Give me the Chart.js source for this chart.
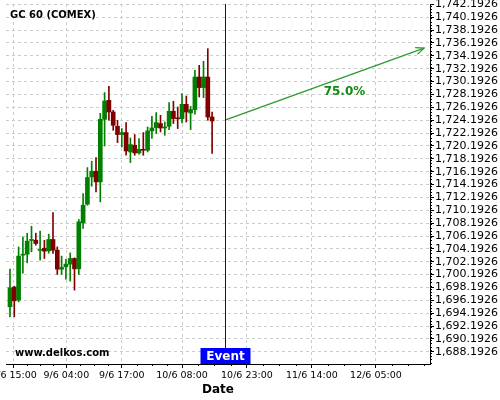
<!DOCTYPE html>
<html>
<head>
<meta charset="utf-8">
<script src="https://cdn.jsdelivr.net/npm/chart.js@4.4.1/dist/chart.umd.min.js"></script>
<style>
  html, body { margin: 0; padding: 0; background: #fff; }
  #wrap { width: 500px; height: 400px; }
</style>
</head>
<body>
<div id="wrap"><canvas id="gcChart" width="500" height="400"></canvas></div>
<script>
// hourly candles, x = bar index
const candleOpen = [1695.19, 1698.25, 1696.23, 1703.21, 1703.37, 1705.50, 1705.54, 1703.95, 1704.30, 1703.88,
	1705.65, 1703.99, 1701.04, 1701.40, 1701.82, 1702.70, 1701.09, 1708.23, 1711.13, 1715.37,
	1716.26, 1714.60, 1724.33, 1727.28, 1725.47, 1723.25, 1721.96, 1722.27, 1719.26, 1720.30,
	1719.10, 1719.67, 1719.52, 1722.52, 1723.04, 1723.67, 1722.98, 1723.25, 1725.58, 1724.50,
	1724.44, 1726.66, 1725.31, 1725.84, 1730.90, 1729.26, 1730.90, 1724.69];
const candleHigh = [1701.04, 1698.40, 1704.50, 1706.06, 1706.63, 1707.72, 1706.63, 1706.94, 1705.54, 1706.48,
	1709.84, 1704.50, 1703.06, 1702.55, 1703.57, 1702.80, 1708.76, 1712.80, 1716.83, 1717.81,
	1718.39, 1725.26, 1728.48, 1729.46, 1725.73, 1724.18, 1722.89, 1723.82, 1721.43, 1721.96,
	1721.34, 1722.27, 1723.14, 1724.80, 1725.37, 1724.95, 1723.91, 1726.93, 1727.13, 1726.24,
	1728.32, 1727.95, 1726.35, 1731.94, 1732.72, 1733.34, 1735.31, 1725.47];
const candleLow = [1693.63, 1693.63, 1695.96, 1700.42, 1702.02, 1703.73, 1704.77, 1702.44, 1702.70, 1703.53,
	1703.48, 1700.22, 1700.22, 1699.49, 1699.18, 1697.78, 1700.22, 1707.36, 1710.98, 1713.93,
	1713.04, 1711.49, 1720.19, 1724.18, 1722.62, 1720.71, 1720.03, 1718.74, 1717.61, 1718.74,
	1718.90, 1718.74, 1719.26, 1721.34, 1722.11, 1722.36, 1721.85, 1722.73, 1723.67, 1722.89,
	1723.76, 1723.91, 1722.73, 1725.11, 1727.80, 1727.70, 1724.18, 1719.01];
const candleClose = [1698.14, 1696.12, 1703.06, 1703.37, 1705.39, 1705.65, 1705.03, 1704.10, 1703.84, 1705.65,
	1703.99, 1701.04, 1701.31, 1701.82, 1702.70, 1701.09, 1708.39, 1710.98, 1715.28, 1716.26,
	1714.60, 1724.33, 1727.17, 1725.47, 1723.40, 1721.96, 1722.27, 1719.41, 1720.40, 1719.10,
	1719.67, 1719.52, 1722.52, 1722.98, 1723.82, 1722.98, 1723.04, 1725.58, 1724.44, 1724.40,
	1726.66, 1725.47, 1725.84, 1730.90, 1729.26, 1730.90, 1724.69, 1724.07];

const eventIndex = 50;
const forecastX = [50, 96.3];
const forecastY = [1724.2, 1735.4];
const forecastLabel = "75.0%";

const xTickPos = [0.93, 13.1, 26.0, 40.0, 55.1, 70.2, 85.1];
const xTickLabels = ["8/6 15:00", "9/6 04:00", "9/6 17:00", "10/6 08:00", "10/6 23:00", "11/6 14:00", "12/6 05:00"];
const yTicks = [1688.1926, 1690.1926, 1692.1926, 1694.1926, 1696.1926, 1698.1926, 1700.1926,
	1702.1926, 1704.1926, 1706.1926, 1708.1926, 1710.1926, 1712.1926, 1714.1926, 1716.1926,
	1718.1926, 1720.1926, 1722.1926, 1724.1926, 1726.1926, 1728.1926, 1730.1926, 1732.1926,
	1734.1926, 1736.1926, 1738.1926, 1740.1926, 1742.1926];

const UP = "#008000";
const DOWN = "#800000";
const ARROW = "#2b992b";
const FONT = "'DejaVu Sans', Verdana, sans-serif";

const candleColors = candleOpen.map((o, i) => (candleClose[i] >= o ? UP : DOWN));
const bodies = candleOpen.map((o, i) => ({ x: i, y: [o, candleClose[i]] }));
const wicks = candleLow.map((l, i) => ({ x: i, y: [l, candleHigh[i]] }));

const overlay = {
	id: "overlay",
	afterDraw(chart) {
		const ctx = chart.ctx;
		const area = chart.chartArea;
		const xs = chart.scales.x;
		const ys = chart.scales.y;
		ctx.save();

		// minor ticks on y
		ctx.strokeStyle = "#000";
		ctx.lineWidth = 1;
		ctx.beginPath();
		for (let v = Math.ceil(ys.min * 2) / 2; v <= ys.max; v += 0.5) {
			const y = Math.round(ys.getPixelForValue(v)) + 0.5;
			ctx.moveTo(area.right, y);
			ctx.lineTo(area.right + 2, y);
		}
		// minor ticks on x
		const px = xTickPos.map(v => xs.getPixelForValue(v));
		const step = (px[px.length - 1] - px[px.length - 2]) / 4;
		for (let i = 0; i < px.length; i++) {
			const next = i < px.length - 1 ? px[i + 1] : area.right;
			const s = i < px.length - 1 ? (px[i + 1] - px[i]) / 4 : step;
			for (let x = px[i] + s; x < next - 1; x += s) {
				const xx = Math.round(x) + 0.5;
				ctx.moveTo(xx, area.bottom);
				ctx.lineTo(xx, area.bottom + 2);
			}
		}
		ctx.stroke();

		// event line
		const ex = Math.round(xs.getPixelForValue(eventIndex)) + 0.5;
		ctx.strokeStyle = "#0000e0";
		ctx.lineWidth = 1;
		ctx.beginPath();
		ctx.moveTo(ex, area.top);
		ctx.lineTo(ex, area.bottom);
		ctx.stroke();

		// event label
		ctx.fillStyle = "#0000ff";
		ctx.fillRect(ex - 25, area.bottom - 16, 50, 16);
		ctx.fillStyle = "#fff";
		ctx.font = "bold 12px " + FONT;
		ctx.textAlign = "center";
		ctx.textBaseline = "middle";
		ctx.fillText("Event", ex, area.bottom - 7.5);

		// arrow head + label
		const pts = chart.getDatasetMeta(2).data;
		const a = pts[0], b = pts[1];
		const ang = Math.atan2(b.y - a.y, b.x - a.x);
		ctx.strokeStyle = ARROW;
		ctx.lineWidth = 1.2;
		ctx.beginPath();
		ctx.moveTo(b.x - 9 * Math.cos(ang - 0.4), b.y - 9 * Math.sin(ang - 0.4));
		ctx.lineTo(b.x, b.y);
		ctx.lineTo(b.x - 9 * Math.cos(ang + 0.4), b.y - 9 * Math.sin(ang + 0.4));
		ctx.stroke();
		ctx.fillStyle = "#108a10";
		ctx.font = "bold 12px " + FONT;
		ctx.fillText(forecastLabel, a.x + (b.x - a.x) * 0.6, a.y + (b.y - a.y) * 0.6 + 15);

		// captions
		ctx.fillStyle = "#000";
		ctx.textAlign = "left";
		ctx.font = "bold 10px " + FONT;
		ctx.fillText("GC 60 (COMEX)", 10, 15);
		ctx.fillText("www.delkos.com", 15, 353);
		ctx.restore();
	}
};

new Chart(document.getElementById("gcChart"), {
	type: "bar",
	data: {
		datasets: [
			{
				label: "body",
				data: bodies,
				backgroundColor: candleColors,
				barThickness: 4,
				minBarLength: 1,
				grouped: false,
				borderWidth: 0
			},
			{
				label: "wick",
				data: wicks,
				backgroundColor: candleColors,
				barThickness: 1,
				grouped: false,
				borderWidth: 0
			},
			{
				type: "line",
				label: "forecast",
				data: forecastX.map((x, i) => ({ x: x, y: forecastY[i] })),
				borderColor: ARROW,
				borderWidth: 1.2,
				pointRadius: 0,
				fill: false
			}
		]
	},
	options: {
		responsive: false,
		animation: false,
		layout: { padding: { left: 6, top: 4, right: 0, bottom: 0 } },
		plugins: {
			legend: { display: false },
			tooltip: { enabled: false }
		},
		scales: {
			x: {
				type: "linear",
				min: -0.93,
				max: 97.67,
				offset: false,
				afterBuildTicks: s => { s.ticks = xTickPos.map(v => ({ value: v })); },
				afterFit: s => { s.height = 36; s.paddingLeft = 0; s.paddingRight = 0; },
				ticks: {
					autoSkip: false,
					maxRotation: 0,
					padding: 2,
					color: "#000",
					font: { family: FONT, size: 9.5 },
					callback: (v, i) => xTickLabels[i]
				},
				grid: {
					offset: false,
					color: "#cccccc",
					tickColor: "#000",
					tickLength: 4
				},
				border: { color: "#000", dash: [3, 3] },
				title: {
					display: true,
					text: "Date",
					color: "#000",
					font: { family: FONT, size: 12, weight: "bold" },
					padding: { top: 0, bottom: 3 }
				}
			},
			y: {
				position: "right",
				min: 1686.3,
				max: 1742.25,
				beginAtZero: false,
				afterBuildTicks: s => { s.ticks = yTicks.map(v => ({ value: v })); },
				afterFit: s => { s.width = 70; s.paddingTop = 0; s.paddingBottom = 0; },
				ticks: {
					autoSkip: false,
					padding: 1,
					color: "#000",
					font: { family: FONT, size: 11 },
					callback: v => v.toLocaleString("en-US", { minimumFractionDigits: 4, maximumFractionDigits: 4 })
				},
				grid: {
					color: "#cccccc",
					tickColor: "#000",
					tickLength: 4
				},
				border: { color: "#000", dash: [3, 3] }
			}
		}
	},
	plugins: [overlay]
});
</script>
</body>
</html>
